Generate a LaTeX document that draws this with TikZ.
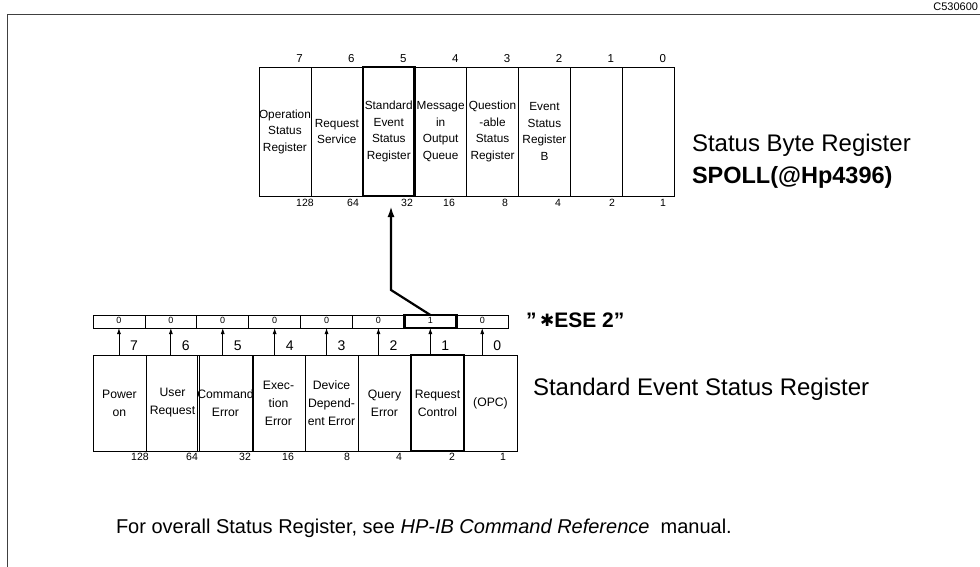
\documentclass[tikz,border=0pt]{standalone}
\usepackage{fontspec}
\setmainfont{Liberation Sans}
\newfontfamily\symfont{DejaVu Sans}
\usetikzlibrary{arrows.meta,calc}

\begin{document}
\begin{tikzpicture}[x=1pt,y=-1pt,
  every node/.style={inner sep=0pt, outer sep=0pt},
  frameline/.style={line width=0.7pt, black!75},
  topcell/.style={draw, line width=0.8pt, minimum width=51.9pt, minimum height=129pt,
    align=center, font=\fontsize{11.8}{16.5}\selectfont},
  maincell/.style={draw, line width=0.8pt, minimum width=53pt, minimum height=96pt,
    align=center, font=\fontsize{12.2}{18}\selectfont},
  encell/.style={draw, line width=0.8pt, minimum width=51.9pt, minimum height=13pt,
    font=\fontsize{9}{9}\selectfont},
  boldcell/.style={line width=2.6pt},
  bitnum/.style={font=\fontsize{11.5}{11.5}\selectfont},
  weight/.style={font=\fontsize{10.5}{10.5}\selectfont},
  enbit/.style={font=\fontsize{14}{14}\selectfont},
  biglabel/.style={anchor=west, font=\fontsize{24}{28}\selectfont},
  smallarrow/.style={line width=0.8pt, -{Latex[length=6pt,width=4pt]}},
  mainarrow/.style={line width=2.2pt, -{Latex[length=11pt,width=7pt]}}
]
\useasboundingbox (0,0) rectangle (980,567);

% outer frame and drawing number
\draw[frameline] (7,567) -- (7,14) -- (980,14);
\node[anchor=east, font=\fontsize{11}{11}\selectfont] (dwg) at (978,7) {C530600};

% ---- Status Byte Register ----
\foreach \b/\txt [count=\i from 0] in {
    7/{Operation\\Status\\Register},
    6/{Request\\Service},
    5/{Standard\\Event\\Status\\Register},
    4/{Message\\in\\Output\\Queue},
    3/{Question\\-able\\Status\\Register},
    2/{Event\\Status\\Register\\B},
    1/{},
    0/{}} {
  \node[topcell] (t\b) at ({259+51.9*\i+25.95},131.5) {\txt};
  \node[bitnum, anchor=base] (tn\b) at ({259+51.9*\i+40.5},63) {\b};
}
\draw[boldcell] (t5.south west) rectangle (t5.north east);

% bit weights under the status byte
\foreach \w/\x in {128/305,64/353,32/407,16/449,8/505,4/558,2/612,1/663}
  \node[weight] (tw\w) at (\x,203) {\w};

\node[biglabel] (sbr) at (692,145) {Status Byte Register};
\node[biglabel, font=\bfseries\fontsize{23.5}{28}\selectfont] (spoll) at (692,177) {SPOLL(@Hp4396)};

% ---- Standard Event Status Enable register ----
\foreach \b/\v [count=\i from 0] in {7/0,6/0,5/0,4/0,3/0,2/0,1/1,0/0} {
  \node[encell] (e\b) at ({93+51.9*\i+25.95},321.5) {\raisebox{2pt}{\v}};
}
\draw[boldcell] (e1.south west) rectangle (e1.north east);

\node[anchor=west, font=\bfseries\fontsize{21}{24}\selectfont] (ese) at (526,320)
  {\symbol{34}\,{\symfont\fontsize{17}{20}\selectfont\raisebox{0.5pt}{✱}}ESE 2\symbol{34}};

% ---- Standard Event Status Register ----
\foreach \b/\txt [count=\i from 0] in {
    7/{Power\\on},
    6/{User\\Request},
    5/{Command\\Error},
    4/{Exec-\\tion\\Error},
    3/{Device\\Depend-\\ent Error},
    2/{Query\\Error},
    1/{Request\\Control},
    0/{(OPC)}} {
  \node[maincell] (b\b) at ({93+53*\i+26.5},403) {\txt};
  \draw[smallarrow] (e\b.south |- b\b.north) -- (e\b.south);
  \node[enbit] (bn\b) at ($(e\b.south)+(15,18)$) {\b};
}
\draw[boldcell] (b1.south west) rectangle (b1.north east);

\foreach \w/\x in {128/140,64/192,32/245,16/288,8/347,4/399,2/452,1/503}
  \node[weight] (bw\w) at (\x,457) {\w};

\node[biglabel] (sesr) at (533,389) {Standard Event Status Register};

% enable bit 1 feeds bit 5 of the status byte
\coordinate (bend) at (391,290);
\coordinate (tip) at (391,206);
\draw[mainarrow] (e1.north) -- (bend) -- (tip);

% footer note
\node[anchor=west, font=\fontsize{20}{24}\selectfont] (note) at (116,528)
  {For overall Status Register, see \textit{HP-IB Command Reference}\ \ manual.};
\end{tikzpicture}
\end{document}
